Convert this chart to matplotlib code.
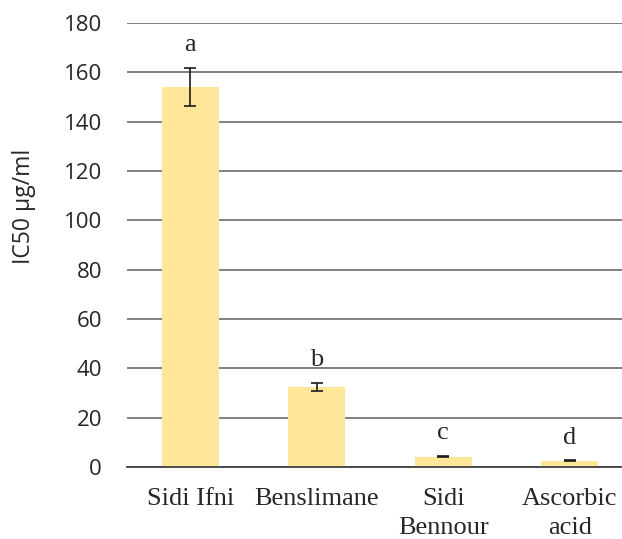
import numpy as np
import matplotlib.pyplot as plt

# IC50 values
sites = ["Sidi Ifni", "Benslimane", "Sidi\nBennour", "Ascorbic\nacid"]
ic50 = [154.0, 32.5, 4.2, 2.5]
ic50_err = [7.7, 1.7, 0.3, 0.2]
letters = ["a", "b", "c", "d"]
yticks = np.arange(0, 181, 20)

bar_color = "#FFE699"
grid_color = "#808080"
text_color = "#262626"

fig = plt.figure(figsize=(6.22, 5.39), dpi=100)
ax = fig.add_axes([127 / 622, 1 - 467 / 539, 506 / 622, 444 / 539])

x = np.arange(len(sites))
ax.bar(x, ic50, width=0.45, color=bar_color, zorder=2)
ax.errorbar(
    x, ic50, yerr=ic50_err, fmt="none", ecolor="#1a1a1a",
    elinewidth=1.2, capsize=4.3, capthick=1.2, zorder=3,
)

for xi, v, e, lab in zip(x, ic50, ic50_err, letters):
    ax.annotate(
        lab, (xi, v + e), xytext=(0, 12), textcoords="offset points",
        ha="center", va="baseline", fontsize=19,
        family="Liberation Serif", color=text_color,
    )

ax.set_xlim(-0.5, len(sites) - 0.5)
ax.set_ylim(0, 180)
ax.set_yticks(yticks)
ax.set_xticks(x)
ax.set_xticklabels(sites, family="Liberation Serif", fontsize=19,
                   color=text_color, linespacing=1.42)
ax.set_yticklabels([str(t) for t in yticks], family="Open Sans", fontsize=16,
                   color=text_color)
ax.tick_params(axis="y", length=0, pad=18)
ax.tick_params(axis="x", length=0, pad=15)

ax.grid(axis="y", color=grid_color, lw=1.4, zorder=0)
for side in ["left", "right", "top"]:
    ax.spines[side].set_visible(False)
ax.spines["bottom"].set_color("#404040")
ax.spines["bottom"].set_linewidth(1.3)
ax.spines["bottom"].set_zorder(4)

fig.text(24 / 622, 1 - 206 / 539, "IC50 µg/ml", rotation=90, ha="center",
         va="center", family="Open Sans", fontsize=16.5, color=text_color)

fig.savefig("out.png", dpi=100)
